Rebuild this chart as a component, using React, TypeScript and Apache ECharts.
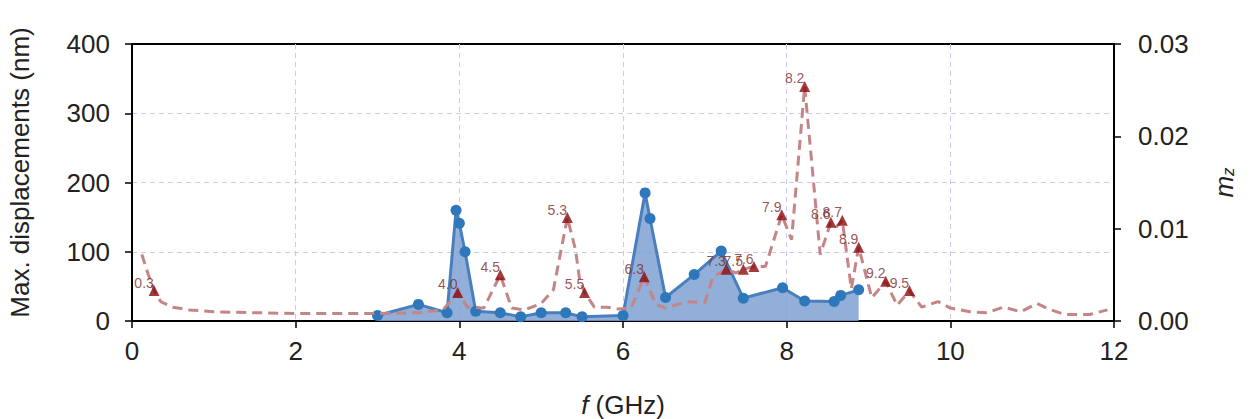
import React, { useEffect, useRef } from "react";
import * as echarts from "echarts";

// Max. displacements (blue, left axis)
const dispFreq = [3.0, 3.5, 3.85, 3.96, 4.0, 4.07, 4.2, 4.5, 4.75, 5.0, 5.3, 5.5, 6.0, 6.27, 6.33, 6.52, 6.87, 7.2, 7.47, 7.95, 8.22, 8.58, 8.66, 8.88];
const dispVal = [8, 24, 12, 160, 141, 100, 14, 12, 6, 12, 12, 6, 8, 185, 148, 34, 67, 101, 33, 48, 29, 28, 37, 45];

// m_z spectrum (dashed, right axis)
const mzFreq = [0.12, 0.2, 0.27, 0.35, 0.5, 0.7, 1.0, 1.5, 2.0, 2.5, 3.0, 3.5, 3.8, 3.98, 4.1, 4.3, 4.5, 4.64, 4.8, 5.0, 5.15, 5.32, 5.42, 5.47, 5.53, 5.65, 5.8, 5.95, 6.1, 6.26, 6.4, 6.52, 6.78, 7.0, 7.1, 7.26, 7.38, 7.47, 7.6, 7.74, 7.94, 8.06, 8.22, 8.41, 8.54, 8.61, 8.68, 8.79, 8.88, 9.04, 9.21, 9.35, 9.5, 9.65, 9.85, 10.0, 10.24, 10.45, 10.65, 10.86, 11.06, 11.2, 11.4, 11.7, 11.92];
const mzVal = [0.0072, 0.005, 0.0033, 0.0021, 0.0015, 0.0012, 0.001, 0.0009, 0.0008, 0.0008, 0.0008, 0.0009, 0.0012, 0.0031, 0.0015, 0.0014, 0.005, 0.0014, 0.0012, 0.0019, 0.0034, 0.0112, 0.0077, 0.0045, 0.0031, 0.0015, 0.0015, 0.0013, 0.0014, 0.0048, 0.0018, 0.0014, 0.0021, 0.002, 0.0048, 0.0056, 0.0052, 0.0056, 0.0059, 0.0059, 0.0115, 0.0088, 0.0254, 0.0072, 0.0107, 0.0102, 0.0109, 0.0035, 0.008, 0.0025, 0.0043, 0.0017, 0.0033, 0.0015, 0.0021, 0.0014, 0.001, 0.0009, 0.0015, 0.001, 0.0019, 0.0013, 0.0007, 0.0007, 0.0012];

// Labelled peaks
const peakFreq = [0.27, 3.98, 4.5, 5.32, 5.53, 6.26, 7.26, 7.47, 7.6, 7.94, 8.22, 8.54, 8.68, 8.88, 9.21, 9.5];
const peakMz = [0.0033, 0.0031, 0.005, 0.0112, 0.0031, 0.0048, 0.0056, 0.0056, 0.0059, 0.0115, 0.0254, 0.0107, 0.0109, 0.008, 0.0043, 0.0033];
const peakLabels = ["0.3", "4.0", "4.5", "5.3", "5.5", "6.3", "7.3", "7.5", "7.6", "7.9", "8.2", "8.6", "8.7", "8.9", "9.2", "9.5"];

const xTicks = [0, 2, 4, 6, 8, 10, 12];

const FONT = "Liberation Sans, Arial, sans-serif";
const FS = 26;

export default function App() {
  const ref = useRef<HTMLDivElement>(null);
  useEffect(() => {
    if (!ref.current) return;
    const chart = echarts.init(ref.current, null, { renderer: "svg" });
    const gridLine = { show: true, showMinLine: false, showMaxLine: false, lineStyle: { color: "#c9c9f2", type: [5, 4] as any, width: 1 } };
    const axisLine = { show: true, lineStyle: { color: "#000", width: 2 } };
    const axisTick = { show: true, inside: false, length: 7, lineStyle: { color: "#000", width: 1.5 } };
    chart.setOption({
      animation: false,
      backgroundColor: "#fff",
      textStyle: { fontFamily: FONT },
      grid: {
        left: 132, right: 139, top: 44, bottom: 98,
        containLabel: false,
        outerBoundsMode: "none",
        show: true, borderColor: "#000", borderWidth: 2, backgroundColor: "transparent",
      },
      xAxis: {
        type: "value",
        min: xTicks[0],
        max: xTicks[xTicks.length - 1],
        interval: 2,
        axisLine,
        axisTick,
        splitLine: gridLine,
        axisLabel: { fontSize: FS, color: "#222", margin: 17, fontFamily: FONT },
        name: "{i|f} (GHz)",
        nameLocation: "middle",
        nameGap: 71,
        nameTextStyle: {
          fontSize: FS, color: "#222", fontFamily: FONT,
          rich: { i: { fontStyle: "italic", fontSize: FS, color: "#222", fontFamily: FONT } },
        },
      },
      yAxis: [
        {
          type: "value",
          min: 0,
          max: 400,
          interval: 100,
          axisLine,
          axisTick,
          splitLine: gridLine,
          axisLabel: { fontSize: FS, color: "#222", margin: 22, fontFamily: FONT },
          name: "Max. displacements (nm)",
          nameLocation: "middle",
          nameRotate: 90,
          nameGap: 99,
          nameTextStyle: { fontSize: FS, color: "#222", fontFamily: FONT, padding: [0, 0, 0, 20] },
        },
        {
          type: "value",
          position: "right",
          min: 0,
          max: 0.03,
          interval: 0.01,
          axisLine,
          axisTick,
          splitLine: { show: false },
          axisLabel: { fontSize: FS, color: "#222", margin: 24, fontFamily: FONT, formatter: (v: number) => v.toFixed(2) },
          name: "{i|m}{s|z}",
          nameLocation: "middle",
          nameRotate: 90,
          nameGap: 96,
          nameTextStyle: {
            fontSize: FS, color: "#222", fontFamily: FONT,
            rich: {
              i: { fontStyle: "italic", fontSize: 26, color: "#222", fontFamily: FONT },
              s: { fontStyle: "italic", fontSize: 17, color: "#222", fontFamily: FONT, verticalAlign: "bottom", padding: [10, 0, 0, 0] },
            },
          },
        },
      ],
      series: [
        {
          type: "line",
          yAxisIndex: 0,
          data: dispFreq.map((f, i) => [f, dispVal[i]]),
          symbol: "circle",
          symbolSize: 11,
          showSymbol: true,
          itemStyle: { color: "#2f77bb" },
          lineStyle: { color: "#4a7fbf", width: 3 },
          areaStyle: { color: "#7ea1d1", opacity: 0.85 },
          z: 2,
        },
        {
          type: "line",
          yAxisIndex: 1,
          data: mzFreq.map((f, i) => [f, mzVal[i]]),
          showSymbol: false,
          symbol: "none",
          lineStyle: { color: "#c48587", width: 3, type: [10, 6] as any },
          z: 3,
        },
        {
          type: "scatter",
          yAxisIndex: 1,
          data: peakFreq.map((f, i) => ({ value: [f, peakMz[i]], name: peakLabels[i] })),
          symbol: "triangle",
          symbolSize: 11,
          itemStyle: { color: "#8b0a0a" },
          label: {
            show: true,
            position: "inside",
            offset: [-10, -8],
            fontSize: 14,
            color: "#7d2828",
            fontFamily: FONT,
            formatter: (p: any) => p.name,
          },
          z: 4,
        },
      ],
    });
    return () => chart.dispose();
  }, []);
  return <div ref={ref} style={{ position: "absolute", left: 0, top: 0, width: 1253, height: 419 }} />;
}
